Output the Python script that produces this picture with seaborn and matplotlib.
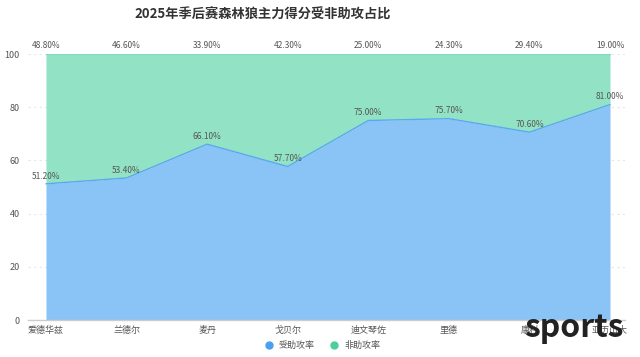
import numpy as np
import pandas as pd
import matplotlib
matplotlib.use("Agg")
import matplotlib.pyplot as plt
import seaborn as sns
from matplotlib.lines import Line2D

players = ["爱德华兹", "兰德尔", "麦丹", "戈贝尔", "迪文琴佐", "里德", "康利", "亚历山大"]
assisted = [51.2, 53.4, 66.1, 57.7, 75.0, 75.7, 70.6, 81.0]
unassisted = [48.8, 46.6, 33.9, 42.3, 25.0, 24.3, 29.4, 19.0]

sns.set_style("white")
plt.rcParams['font.family'] = ['Noto Sans CJK SC', 'DejaVu Sans']

df = pd.DataFrame({"idx": np.arange(len(players)), "assisted": assisted, "unassisted": unassisted})
df["total"] = df["assisted"] + df["unassisted"]

fig = plt.figure(figsize=(6.4, 3.57), dpi=100)
ax = fig.add_axes([28/640, 1-320/357, (625-28)/640, (320-54)/357])

blue_fill = "#8ac3f5"
blue_line = "#5aa8ef"
green_fill = "#92e3c6"

ax.fill_between(df["idx"], 0, df["assisted"], color=blue_fill, lw=0, zorder=2)
ax.fill_between(df["idx"], df["assisted"], df["total"], color=green_fill, lw=0, zorder=2)
sns.lineplot(data=df, x="idx", y="assisted", color=blue_line, lw=1, ax=ax, zorder=3)
sns.lineplot(data=df, x="idx", y="total", color="#7fdcb8", lw=1, ax=ax, zorder=3)

for i, (a, u) in enumerate(zip(assisted, unassisted)):
    ax.text(i, a + 1.2, f"{a:.2f}%", ha="center", va="bottom", fontsize=6, color="#555555", zorder=4)
    ax.text(i, 101.5, f"{u:.2f}%", ha="center", va="bottom", fontsize=6, color="#555555", zorder=4)

ax.set_xlim(-0.223, 7.186)
ax.set_ylim(0, 100)
ax.set_yticks([0, 20, 40, 60, 80, 100])
ax.set_xticks(range(len(players)))
ax.set_xticklabels(players)
ax.tick_params(axis="y", length=0, labelsize=6.5, colors="#555555", pad=6)
ax.tick_params(axis="x", length=3, labelsize=6.5, colors="#555555", pad=1, color="#cccccc")
ax.set_xlabel("")
ax.set_ylabel("")
ax.grid(axis="y", linestyle=(0, (2, 3)), color="#e6e6e6", lw=0.8, zorder=0)
for s in ["top", "right", "left"]:
    ax.spines[s].set_visible(False)
ax.spines["bottom"].set_color("#cccccc")
ax.spines["bottom"].set_linewidth(1)

fig.text(263/640, 1-15/357, "2025年季后赛森林狼主力得分受非助攻占比", ha="center", va="center",
         fontsize=9.5, fontweight="bold", color="#333333")

handles = [Line2D([], [], marker="o", ls="", color="#4a9ff0", markersize=5),
           Line2D([], [], marker="o", ls="", color="#4ccf9a", markersize=5)]
fig.legend(handles, ["受助攻率", "非助攻率"], loc="center", bbox_to_anchor=(0.5, 0.033),
           ncol=2, frameon=False, fontsize=6.5, handletextpad=0.1, columnspacing=1.2,
           labelcolor="#555555")

fig.text(574/640, 1-337/357, "sports", ha="center", va="baseline", fontsize=23, fontweight="bold",
         color="#222222", zorder=10)

fig.savefig("out.png", dpi=100)
